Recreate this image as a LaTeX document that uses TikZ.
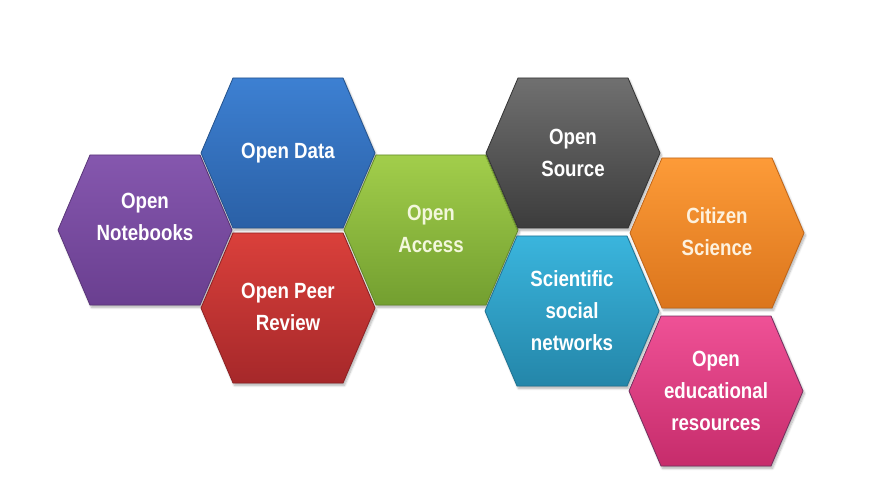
\documentclass[tikz,border=0pt]{standalone}
\usepackage{fontspec}
\setmainfont{Liberation Sans}
\newfontfamily\hexfont{Liberation Sans}[FakeStretch=0.85]
\usepackage{tikz}
\usetikzlibrary{shadows.blur}

\definecolor{nbTop}{HTML}{8557AE}
\definecolor{nbBot}{HTML}{6A3F90}
\definecolor{nbLine}{HTML}{5A3679}
\definecolor{daTop}{HTML}{3D80D2}
\definecolor{daBot}{HTML}{2A60A6}
\definecolor{daLine}{HTML}{24528C}
\definecolor{prTop}{HTML}{DA403B}
\definecolor{prBot}{HTML}{A6282A}
\definecolor{prLine}{HTML}{8C2224}
\definecolor{acTop}{HTML}{A2CE4B}
\definecolor{acBot}{HTML}{739F30}
\definecolor{acLine}{HTML}{638A2A}
\definecolor{srTop}{HTML}{707070}
\definecolor{srBot}{HTML}{3C3C3C}
\definecolor{srLine}{HTML}{333333}
\definecolor{snTop}{HTML}{3AB5DD}
\definecolor{snBot}{HTML}{2486A9}
\definecolor{snLine}{HTML}{1F7392}
\definecolor{csTop}{HTML}{FD9B38}
\definecolor{csBot}{HTML}{DB751C}
\definecolor{csLine}{HTML}{BE6418}
\definecolor{erTop}{HTML}{EF5196}
\definecolor{erBot}{HTML}{C62C6B}
\definecolor{erLine}{HTML}{73305F}
\definecolor{acText}{HTML}{F3F7DC}
\definecolor{csText}{HTML}{FDF1DE}

\tikzset{
    hexcell/.style={line width=0.8pt,
        blur shadow={shadow xshift=1.5pt,shadow yshift=-2.5pt,shadow blur steps=6,shadow opacity=30}},
    hexlabel/.style={font=\hexfont\fontsize{22}{32}\selectfont\bfseries,align=center,text=white,inner sep=0pt}
}

\begin{document}
\begin{tikzpicture}[x=1pt,y=-1pt]
        \useasboundingbox (0,0) rectangle (877,502);

        % Honeycomb cells
        \foreach \hx/\hy/\hc in {
            145/230/nb,
            288/153/da,
            288/308/pr,
            431/230/ac,
            573/153/sr,
            572/311/sn,
            717/233/cs,
            716/391/er}{
            \draw[hexcell,top color=\hc Top,bottom color=\hc Bot,draw=\hc Line]
                (\hx-87,\hy) -- (\hx-55,\hy-75) -- (\hx+55,\hy-75)
                -- (\hx+87,\hy) -- (\hx+55,\hy+75) -- (\hx-55,\hy+75) -- cycle;
        }

        % Labels
        \node[hexlabel] (notebooks) at (145,217) {Open\\Notebooks};
        \node[hexlabel] (data) at (288,153) {Open Data};
        \node[hexlabel] (peer) at (288,307) {Open Peer\\Review};
        \node[hexlabel,text=acText] (access) at (431,229) {Open\\Access};
        \node[hexlabel] (source) at (573,153) {Open\\Source};
        \node[hexlabel] (social) at (572,311) {Scientific\\social\\networks};
        \node[hexlabel,text=csText] (citizen) at (717,232) {Citizen\\Science};
        \node[hexlabel] (oer) at (716,391) {Open\\educational\\resources};
    \end{tikzpicture}
\end{document}
